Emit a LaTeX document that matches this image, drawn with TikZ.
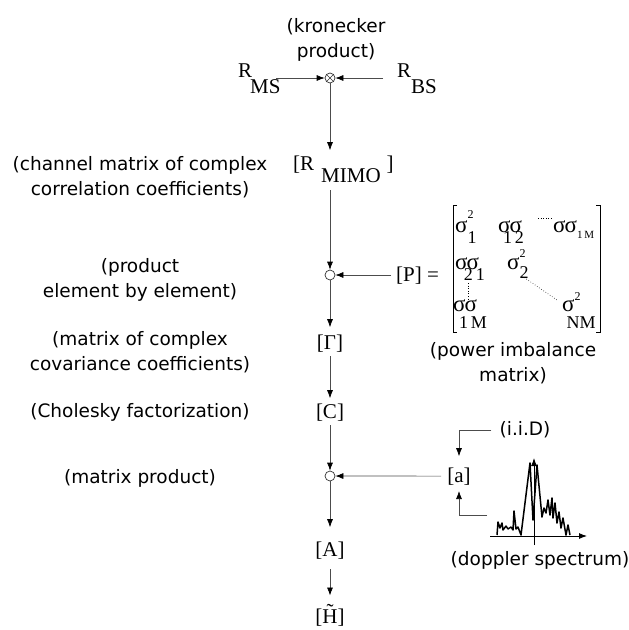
\documentclass[tikz,border=0pt]{standalone}
\usepackage{fontspec}
\setmainfont{Liberation Serif}
\newfontfamily\notefont{DejaVu Sans}
\usetikzlibrary{arrows.meta, positioning}

% text sizes
\newcommand{\symsize}{\fontsize{21}{24}\selectfont}
\newcommand{\entsize}{\fontsize{23}{26}\selectfont}
\newcommand{\notesize}{\notefont\fontsize{18.5}{25}\selectfont}
% raised / lowered indices of the matrix entries
\newcommand{\up}[2][14pt]{\raisebox{#1}{\fontsize{12}{12}\selectfont #2}}
\newcommand{\dn}[2][-11pt]{\raisebox{#1}{\fontsize{18}{18}\selectfont #2}}

\begin{document}
\begin{tikzpicture}[
    x=1pt, y=-1pt,
    >={Latex[length=8pt, width=6pt, black]}, % Set default arrow tip
    flow/.style={->, draw=black!70, line width=0.7pt}, % Style for arrows
    junc/.style={circle, draw=black!80, fill=white, line width=0.7pt,
                 minimum size=10pt, inner sep=0pt}, % Style for junctions
    sym/.style={font=\symsize, inner sep=0pt}, % Style for matrices
    note/.style={font=\notesize, align=center, inner sep=0pt}, % Style for comments
    entry/.style={font=\entsize, inner sep=0pt, anchor=base west} % Style for matrix entries
]
    \useasboundingbox (0,0) rectangle (629,630);

    % Kronecker product
    \node[junc] (kron) at (330,78) {};
    \draw[black!80, line width=0.6pt] (kron.north west) -- (kron.south east)
        (kron.north east) -- (kron.south west);
    \node[note] (kronlab) at (336,40) {(kronecker\\product)};
    \node[sym, anchor=base west] (rms) at (238,77) {R\kern-2pt\raisebox{-16pt}{MS}};
    \node[sym, anchor=base west] (rbs) at (397,77) {R\raisebox{-16pt}{BS}};
    \draw[flow] ([xshift=-5pt]rms.east |- kron) -- (kron);
    \draw[flow] ([xshift=-14pt]rbs.west |- kron) -- (kron);

    % Main chain
    \node[sym, anchor=base west] (rmimo) at (293,170)
        {[R\kern7pt\raisebox{-12pt}{MIMO}\kern6pt]};
    \node[junc] (prod1) at (330,275) {};
    \node[sym, anchor=base] (gam) at (330,349) {[Γ]};
    \node[sym, anchor=base] (chol) at (330,418) {[C]};
    \node[junc] (prod2) at (330,476) {};
    \node[sym, anchor=base] (amat) at (330,556) {[A]};
    \node[sym, anchor=base] (hmat) at (330,623) {[\~H]};

    \draw[flow] (kron) -- ([yshift=5pt]kron |- rmimo.north);
    \draw[flow] ([yshift=-8pt]kron |- rmimo.south) -- (prod1);
    \draw[flow] (prod1) -- ([yshift=7pt]gam.north);
    \draw[flow] ([yshift=-4pt]gam.south) -- ([yshift=5pt]chol.north);
    \draw[flow] ([yshift=-4pt]chol.south) -- (prod2);
    \draw[flow] (prod2) -- ([yshift=14pt]amat.north);
    \draw[flow] ([yshift=-10pt]amat.south) -- ([yshift=9pt]hmat.north);

    % Comments on the left
    \node[note] (chanlab) at (140,177) {(channel matrix of complex\\correlation coefficients)};
    \node[note] (prodlab) at (140,280) {(product\\element by element)};
    \node[note] (covlab) at (140,352) {(matrix of complex\\covariance coefficients)};
    \node[note] (chollab) at (140,412) {(Cholesky factorization)};
    \node[note] (mprodlab) at (140,478) {(matrix product)};

    % Power imbalance matrix
    \node[sym, anchor=base west] (pmat) at (396,281) {[P] =};
    \draw[flow] ([xshift=-5pt]pmat.west |- prod1) -- (prod1);
    \draw[line width=0.6pt] (457,205) -- (453,205) -- (453,332) -- (457,332);
    \draw[line width=0.6pt] (596,205) -- (600,205) -- (600,332) -- (596,332);
    \node[entry] (s11) at (455,232) {σ\rlap{\up{2}}\dn{1}};
    \node[entry] (s12) at (498,232) {σ\kern-1ptσ\kern-19pt\dn{1\,2}};
    \node[entry] (s1m) at (553,232) {σ\kern-1ptσ\raisebox{-6pt}{\fontsize{11}{11}\selectfont 1\,M}};
    \node[entry] (s21) at (455,269) {σ\kern-1ptσ\kern-15pt\dn{2\,1}};
    \node[entry] (s22) at (507,269) {σ\rlap{\up[12pt]{2}}\dn[-9pt]{2}};
    \node[entry] (sm1) at (453,311) {σ\kern-1ptσ\kern-18pt\dn[-17pt]{1\,M}};
    \node[entry] (snm) at (562,311) {σ\rlap{\up[11pt]{2}}\kern-8pt\dn[-17pt]{NM}};
    \draw[dotted, line width=0.6pt] (538,218) -- (552,218);
    \draw[dotted, line width=0.6pt] (468,283) -- (468,300);
    \draw[dotted, line width=0.6pt] (522,276) -- (557,300);
    \node[note] (powlab) at (513,363) {(power imbalance\\matrix)};

    % i.i.D input shaped by the doppler spectrum
    \node[sym, anchor=base] (avec) at (459,482) {[a]};
    \draw[flow] ([xshift=-6pt]avec.west) -- (prod2);
    \node[note] (iid) at (525,430) {(i.i.D)};
    \coordinate (spec) at (487,515);
    \draw[flow] ([xshift=-8pt]iid.west) -| ([yshift=11pt]avec.north);
    \draw[flow] (spec) -| ([yshift=-6pt]avec.south);

    % Doppler spectrum
    \draw[->, line width=0.9pt] (490,536) -- (587,536);
    \draw[->, line width=0.9pt] (534,545) -- (534,458);
    \draw[line width=1.5pt, line join=round] (497,535) -- (498,522) -- (500,528) -- (502,523)
        -- (503,530) -- (506,526) -- (508,529) -- (511,527) -- (513,530) -- (514,511)
        -- (516,529) -- (518,527) -- (521,535) -- (530,463) -- (533,520) -- (537,465)
        -- (542,517) -- (544,508) -- (546,513) -- (548,500) -- (550,515) -- (552,498)
        -- (553,518) -- (555,503) -- (557,523) -- (559,512) -- (561,528) -- (563,518)
        -- (566,535) -- (568,525) -- (570,535);
    \node[note] (doplab) at (540,560) {(doppler spectrum)};

\end{tikzpicture}
\end{document}
